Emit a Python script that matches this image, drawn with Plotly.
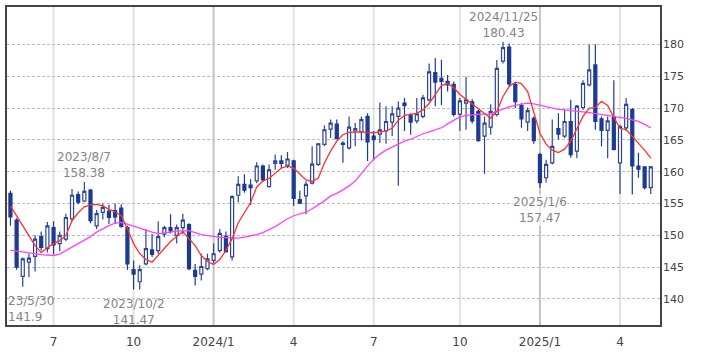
import pandas as pd
import plotly.graph_objects as go

# ---- data (weekly candles, week starting Monday) ----
start_week = "2023-05-15"
n_weeks = 105
dates = pd.date_range(start_week, periods=n_weeks, freq="7D")

opens = [156.6, 152.4, 143.55, 145.8, 146.7, 149.8, 147.9, 151.2, 148.7, 149.4,
         152.6, 156.4, 155.4, 157.1, 151.5, 153.6, 153.8, 153.9, 154.3, 151.2,
         144.6, 142.7, 145.5, 147.7, 147.6, 150.2, 151.2, 150.0, 151.2, 151.7,
         144.5, 143.9, 144.75, 146.05, 147.6, 149.85, 146.6, 156.3, 158.0, 157.9,
         158.55, 160.9, 157.65, 161.3, 161.7, 161.0, 161.7, 155.6, 156.2, 158.2,
         161.15, 164.3, 166.7, 167.5, 164.5, 163.75, 166.4, 166.25, 168.7, 165.6,
         165.9, 166.4, 167.8, 168.7, 170.8, 168.9, 168.0, 168.7, 171.3, 175.6,
         174.7, 174.2, 173.75, 169.06, 170.8, 171.0, 169.5, 165.6, 167.0, 169.0,
         177.4, 179.6, 173.7, 170.4, 167.8, 168.4, 162.7, 159.05, 161.4, 166.8,
         165.6, 167.9, 163.25, 170.1, 173.65, 176.8, 168.3, 166.5, 168.5, 161.4,
         166.9, 169.75, 160.9, 160.75, 157.5]
highs = [157.0, 152.7, 146.5, 147.1, 150.0, 150.6, 152.1, 152.2, 150.6, 153.4,
         157.3, 156.9, 158.38, 157.3, 154.0, 155.0, 154.8, 155.0, 154.9, 151.5,
         146.05, 145.3, 151.0, 150.2, 152.2, 151.5, 153.3, 151.7, 153.4, 151.9,
         145.5, 147.1, 147.1, 148.7, 151.0, 150.6, 156.3, 159.3, 159.6, 158.8,
         161.5, 161.15, 161.15, 162.7, 162.6, 163.1, 161.9, 157.0, 158.5, 164.0,
         164.5, 167.25, 168.2, 168.2, 164.8, 168.7, 167.65, 168.7, 169.2, 166.4,
         170.9, 170.3, 170.3, 171.05, 171.6, 169.2, 171.6, 172.1, 177.0, 177.9,
         177.6, 175.2, 174.2, 171.6, 174.95, 171.4, 169.8, 168.7, 170.6, 177.55,
         180.43, 180.15, 174.0, 170.8, 170.1, 168.7, 163.0, 161.9, 168.2, 169.2,
         169.75, 171.3, 170.5, 174.4, 180.0, 180.0, 168.7, 168.7, 174.4, 167.4,
         171.6, 170.0, 163.0, 160.9, 160.9]
lows = [151.5, 144.6, 141.9, 143.4, 144.3, 147.6, 147.3, 147.0, 147.5, 149.1,
        152.2, 154.9, 155.2, 151.9, 151.0, 152.5, 151.8, 151.8, 151.2, 144.6,
        141.47, 141.5, 145.3, 146.6, 147.1, 149.7, 150.3, 148.7, 150.2, 144.5,
        142.1, 142.9, 144.5, 145.6, 147.3, 147.25, 146.05, 155.2, 156.7, 154.75,
        158.2, 158.4, 157.5, 160.3, 160.6, 160.6, 154.6, 154.9, 153.3, 158.0,
        160.9, 164.0, 165.3, 165.05, 161.4, 163.5, 164.0, 164.9, 161.7, 161.8,
        164.5, 164.4, 165.6, 157.8, 166.4, 165.8, 167.6, 168.4, 171.05, 170.3,
        170.5, 172.6, 168.7, 166.4, 166.6, 167.6, 164.7, 159.7, 165.8, 168.7,
        177.0, 173.4, 170.0, 166.9, 166.4, 164.4, 157.47, 158.3, 161.15, 165.05,
        165.3, 162.2, 162.1, 169.75, 173.4, 166.6, 164.0, 162.1, 163.35, 156.5,
        166.4, 156.4, 159.05, 157.25, 156.5]
closes = [152.9, 145.0, 146.3, 146.4, 149.4, 148.1, 151.5, 148.5, 150.0, 152.8,
          156.3, 155.2, 156.9, 152.3, 153.4, 154.4, 152.8, 152.9, 151.4, 145.5,
          143.9, 144.6, 147.9, 147.0, 149.8, 151.2, 150.7, 151.2, 152.4, 144.75,
          143.55, 145.1, 146.3, 147.1, 150.3, 147.45, 156.1, 158.0, 157.1, 157.5,
          160.9, 158.7, 160.3, 161.7, 161.3, 162.0, 155.8, 155.05, 158.0, 161.2,
          164.4, 166.6, 167.65, 165.2, 164.3, 167.0, 166.8, 168.2, 164.7, 165.05,
          166.6, 167.9, 169.1, 170.0, 170.4, 167.8, 169.1, 171.6, 175.7, 174.1,
          174.2, 173.65, 169.0, 171.15, 171.3, 168.0, 164.9, 167.65, 169.5, 176.25,
          179.5, 173.8, 171.0, 168.3, 169.6, 164.9, 158.3, 161.15, 164.0, 165.9,
          167.9, 162.7, 170.3, 173.9, 176.0, 167.9, 166.5, 168.0, 163.5, 167.1,
          170.6, 160.9, 160.4, 157.5, 160.75]

# short moving average (red)
ma_short = [154.64, 153.08, 151.36, 149.80, 148.39, 147.30, 148.08, 148.70, 149.17, 149.95,
            152.30, 153.55, 154.48, 154.80, 154.87, 154.64, 154.09, 153.70, 153.08, 151.05,
            148.70, 147.14, 146.20, 145.78, 146.83, 147.92, 149.02, 149.80, 150.58, 149.48,
            148.39, 146.83, 145.89, 145.42, 146.20, 147.61, 149.48, 151.98, 153.55, 155.11,
            157.61, 158.55, 158.94, 159.80, 160.58, 160.89, 160.58, 159.64, 158.70, 158.47,
            159.02, 161.36, 163.23, 164.80, 165.81, 166.20, 166.25, 166.25, 166.20, 166.13,
            166.28, 166.44, 166.83, 168.08, 168.86, 169.06, 169.17, 169.72, 170.73, 172.14,
            173.55, 173.86, 173.23, 172.14, 171.36, 170.73, 169.80, 169.17, 168.44, 169.48,
            171.83, 173.39, 174.09, 173.86, 172.61, 169.48, 166.05, 164.33, 163.39, 163.00,
            163.55, 164.80, 166.67, 168.70, 169.95, 170.11, 171.05, 170.42, 168.55, 166.83,
            166.63, 165.58, 164.48, 163.39, 162.14]
# long moving average (magenta)
ma_long = [147.69, 147.53, 147.45, 147.30, 147.09, 146.98, 146.91, 146.83, 147.06, 147.61,
           148.16, 148.70, 149.17, 149.80, 150.50, 151.05, 151.52, 151.91, 152.03, 151.75,
           151.44, 151.05, 150.73, 150.50, 150.27, 150.34, 150.50, 150.66, 150.73, 150.73,
           150.42, 150.11, 149.95, 149.80, 149.69, 149.64, 149.56, 149.56, 149.72, 149.91,
           150.11, 150.42, 150.89, 151.36, 151.98, 152.61, 153.08, 153.39, 153.63, 154.17,
           154.80, 155.42, 156.20, 156.59, 157.14, 157.77, 158.55, 159.80, 160.89, 161.98,
           162.77, 163.39, 163.86, 164.33, 164.80, 165.11, 165.58, 165.97, 166.28, 166.59,
           166.91, 167.53, 168.08, 168.63, 168.86, 168.97, 169.02, 169.06, 169.09, 169.48,
           169.88, 170.19, 170.42, 170.58, 170.78, 170.66, 170.42, 170.19, 170.00, 169.80,
           169.72, 169.64, 169.53, 169.41, 169.28, 169.13, 168.97, 168.86, 168.70, 168.63,
           168.39, 168.16, 167.92, 167.45, 166.88]

tick_dates = ["2023-07-03", "2023-10-02", "2024-01-01", "2024-04-01",
              "2024-07-01", "2024-10-07", "2025-01-06", "2025-04-07"]
tick_labels = ["7", "10", "2024/1", "4", "7", "10", "2025/1", "4"]
year_ticks = ["2024-01-01", "2025-01-06"]

y_ticks = [140, 145, 150, 155, 160, 165, 170, 175, 180]

# extreme-value labels: (date of candle, price, label date text, kind, with background)
marks = [
    ("2023-08-07", 158.38, "2023/8/7", "high", True),
    ("2024-11-25", 180.43, "2024/11/25", "high", True),
    ("2023-10-02", 141.47, "2023/10/2", "low", False),
    ("2025-01-06", 157.47, "2025/1/6", "low", True),
]
first_low_label = ("23/5/30", "141.9")

# ---- figure ----
NAVY = "#1b3a94"
fig = go.Figure()
fig.add_trace(go.Candlestick(
    x=dates, open=opens, high=highs, low=lows, close=closes,
    increasing=dict(fillcolor="white", line=dict(color="#2c4595", width=1.2)),
    decreasing=dict(fillcolor=NAVY, line=dict(color=NAVY, width=1.2)),
    whiskerwidth=0, hoverinfo="skip", showlegend=False,
))
fig.add_trace(go.Scatter(x=dates, y=ma_long, mode="lines",
                         line=dict(color="#ff40ff", width=1.3), showlegend=False))
fig.add_trace(go.Scatter(x=dates, y=ma_short, mode="lines",
                         line=dict(color="#ff3030", width=1.3), showlegend=False))

# vertical grid lines at tick weeks (year lines darker)
for d in tick_dates:
    fig.add_shape(type="line", xref="x", yref="paper", x0=d, x1=d, y0=0, y1=1,
                  line=dict(color="#c4c4c4" if d in year_ticks else "#e2e2e2", width=2),
                  layer="below")

ann_font = dict(family="DejaVu Sans", size=12, color="#858585")
for d, v, txt, kind, bg in marks:
    fig.add_annotation(
        x=d, y=v, xref="x", yref="y", text=f"{txt}<br>{v:.2f}",
        showarrow=False, font=ann_font, align="center",
        yanchor="bottom" if kind == "high" else "top",
        yshift=1 if kind == "high" else -6,
        bgcolor="rgba(255,255,255,0.7)" if bg else "rgba(0,0,0,0)", borderpad=0,
    )
fig.add_annotation(
    x=0, xref="paper", y=lows[2], yref="y",
    text=f"{first_low_label[0]}<br>{first_low_label[1]}",
    showarrow=False, font=ann_font, align="left", xanchor="left",
    yanchor="top", yshift=-6, borderpad=0,
)

week = pd.Timedelta(days=7)
fig.update_layout(
    width=709, height=354,
    margin=dict(l=5, r=49, t=5, b=29),
    paper_bgcolor="white", plot_bgcolor="white",
    font=dict(family="DejaVu Sans", color="#444"),
    boxgap=0.3,
    xaxis=dict(
        type="date",
        range=[dates[0] - 0.56 * week, dates[-1] + 1.5 * week],
        rangeslider=dict(visible=False),
        tickmode="array", tickvals=tick_dates, ticktext=tick_labels,
        showgrid=False, zeroline=False,
        showline=True, linecolor="#444", linewidth=1.5, mirror=True,
        ticks="outside", ticklen=5, tickcolor="rgba(0,0,0,0)",
        tickfont=dict(size=12, color="#444"),
    ),
    yaxis=dict(
        side="right", range=[135.9, 185.9],
        tickmode="array", tickvals=y_ticks,
        showgrid=True, gridcolor="#bdbdbd", gridwidth=1, griddash="3px,2px",
        zeroline=False,
        showline=True, linecolor="#444", linewidth=1.5, mirror=True,
        ticks="", ticklabelstandoff=-1,
        tickfont=dict(size=11, color="#444"),
    ),
)

fig.write_html("out.html")
